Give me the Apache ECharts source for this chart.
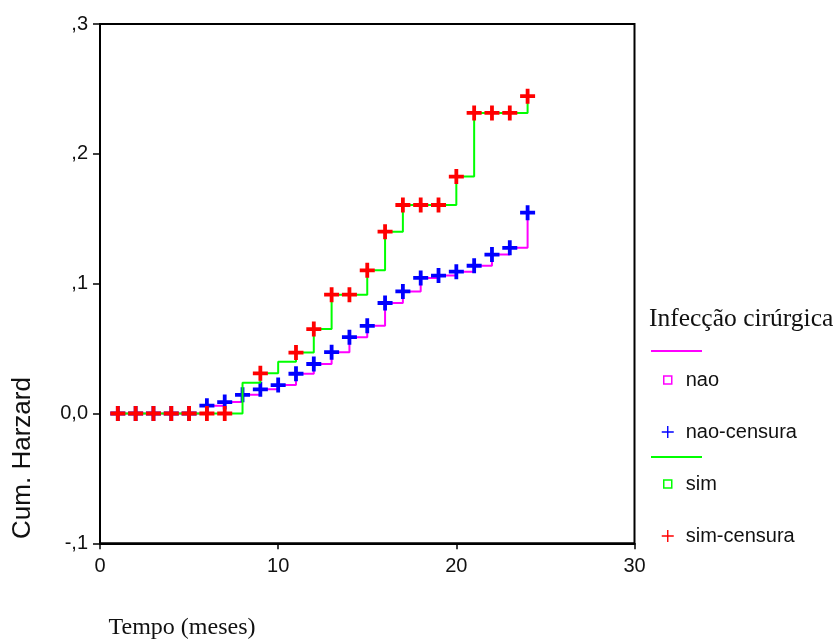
<!DOCTYPE html>
<html><head><meta charset="utf-8">
<script src="https://cdn.jsdelivr.net/npm/echarts@6/dist/echarts.min.js"></script>
<style>html,body{margin:0;padding:0;background:#fff}#c{width:838px;height:644px}</style>
</head><body><div id="c"></div>
<script>
// ---- data ----
const naoTimes = [1,2,3,4,5,6,7,8,9,10,11,12,13,14,15,16,17,18,19,20,21,22,23,24];
const naoHazard = [0,0,0,0,0,0.0060,0.0088,0.0144,0.0186,0.0219,0.0306,0.0381,0.0472,0.0588,0.0675,0.0851,0.0940,0.1044,0.1062,0.1092,0.1138,0.1224,0.1276,0.1547];
const naoCensorTimes = [1,2,3,4,5,6,7,8,9,10,11,12,13,14,15,16,17,18,19,20,21,22,23,24];
const naoCensorValues = [0,0,0,0,0,0.0060,0.0088,0.0144,0.0186,0.0219,0.0306,0.0381,0.0472,0.0588,0.0675,0.0851,0.0940,0.1044,0.1062,0.1092,0.1138,0.1224,0.1276,0.1547];
const simTimes = [1,2,3,4,5,6,7,8,9,10,11,12,13,14,15,16,17,18,19,20,21,22,23,24];
const simHazard = [0,0,0,0,0,0,0,0.0237,0.0309,0.0399,0.0469,0.0650,0.0915,0.0915,0.1103,0.1400,0.1606,0.1606,0.1606,0.1825,0.2315,0.2315,0.2315,0.2444];
const simCensorTimes = [1,2,3,4,5,6,7,9,11,12,13,14,15,16,17,18,19,20,21,22,23,24];
const simCensorValues = [0,0,0,0,0,0,0,0.0309,0.0469,0.0650,0.0915,0.0915,0.1103,0.1400,0.1606,0.1606,0.1606,0.1825,0.2315,0.2315,0.2315,0.2444];
const yTickLabels = {'-1':'-,1','0':'0,0','1':',1','2':',2','3':',3'};
const xTickLabels = ['0','10','20','30'];

const zip = (a, b) => a.map((t, i) => [t, b[i]]);
const PLUS = 'path://M5.6,0H9.4V5.6H15V9.4H9.4V15H5.6V9.4H0V5.6H5.6Z';
const PLUS_THIN = 'path://M5.3,0H6.7V5.3H12V6.7H6.7V12H5.3V6.7H0V5.3H5.3Z';
const SQUARE = 'path://M0,0M12,12M2,2H10V10H2Z';
const SANS = '"Liberation Sans", Arial, sans-serif';
const SERIF = '"Liberation Serif", "Times New Roman", serif';

const chart = echarts.init(document.getElementById('c'), null, {renderer: 'canvas'});
chart.setOption({
  backgroundColor: '#fff',
  animation: false,
  grid: {left: 100, top: 24, right: 203.5, bottom: 100.7, show: true, borderColor: '#000', borderWidth: 2, backgroundColor: 'transparent'},
  xAxis: {
    type: 'value', min: 0, max: 30, interval: 10,
    axisLine: {show: true, onZero: false, lineStyle: {color: '#000', width: 2}},
    axisTick: {show: true, inside: false, length: 6, lineStyle: {color: '#000', width: 1.5}},
    axisLabel: {color: '#111', fontFamily: SANS, fontSize: 20, margin: 13,
      formatter: v => xTickLabels[Math.round(v / 10)]},
    splitLine: {show: false}
  },
  yAxis: {
    type: 'value', min: -0.1, max: 0.3, interval: 0.1,
    axisLine: {show: true, onZero: false, lineStyle: {color: '#000', width: 2}},
    axisTick: {show: true, inside: false, length: 7, lineStyle: {color: '#000', width: 1.5}},
    axisLabel: {color: '#111', fontFamily: SANS, fontSize: 20, margin: 12,
      formatter: v => yTickLabels[String(Math.round(v * 10))]},
    splitLine: {show: false}
  },
  legend: {
    orient: 'vertical', left: 656, top: 365, itemWidth: 12, itemHeight: 12, itemGap: 32,
    textStyle: {fontFamily: SANS, fontSize: 20, color: '#111', lineHeight: 20, padding: [0, 0, 0, 7]},
    data: [
      {name: 'nao', icon: SQUARE, itemStyle: {color: '#fff', borderColor: '#ff00ff', borderWidth: 1.5}},
      {name: 'nao-censura', icon: PLUS_THIN, itemStyle: {color: '#0000ff', borderWidth: 0}},
      {name: 'sim', icon: SQUARE, itemStyle: {color: '#fff', borderColor: '#00ff00', borderWidth: 1.5}},
      {name: 'sim-censura', icon: PLUS_THIN, itemStyle: {color: '#ff0000', borderWidth: 0}}
    ],
    selectedMode: false
  },
  graphic: [
    {type: 'text', left: 649, top: 306, style: {text: 'Infecção cirúrgica', font: '25.5px ' + SERIF, fill: '#111'}},
    {type: 'line', shape: {x1: 651, y1: 351, x2: 702, y2: 351}, style: {stroke: '#ff00ff', lineWidth: 2}},
    {type: 'line', shape: {x1: 651, y1: 457, x2: 702, y2: 457}, style: {stroke: '#00ff00', lineWidth: 2}},
    {type: 'text', x: 23, y: 458, rotation: Math.PI / 2,
      style: {text: 'Cum. Harzard', font: '26px ' + SANS, fill: '#111', align: 'center', verticalAlign: 'middle'}},
    {type: 'text', x: 182, y: 628,
      style: {text: 'Tempo (meses)', font: '24px ' + SERIF, fill: '#111', align: 'center', verticalAlign: 'middle'}}
  ],
  series: [
    {name: 'nao', type: 'line', step: 'end', data: zip(naoTimes, naoHazard), showSymbol: false, symbol: 'none',
      lineStyle: {color: '#ff00ff', width: 2}, itemStyle: {color: '#ff00ff'}, z: 2},
    {name: 'nao-censura', type: 'scatter', data: zip(naoCensorTimes, naoCensorValues), symbol: PLUS, symbolSize: 15,
      itemStyle: {color: '#0000ff', opacity: 1}, z: 3},
    {name: 'sim', type: 'line', step: 'end', data: zip(simTimes, simHazard), showSymbol: false, symbol: 'none',
      lineStyle: {color: '#00ff00', width: 2}, itemStyle: {color: '#00ff00'}, z: 4},
    {name: 'sim-censura', type: 'scatter', data: zip(simCensorTimes, simCensorValues), symbol: PLUS, symbolSize: 15,
      itemStyle: {color: '#ff0000', opacity: 1}, z: 5}
  ]
});
</script></body></html>
